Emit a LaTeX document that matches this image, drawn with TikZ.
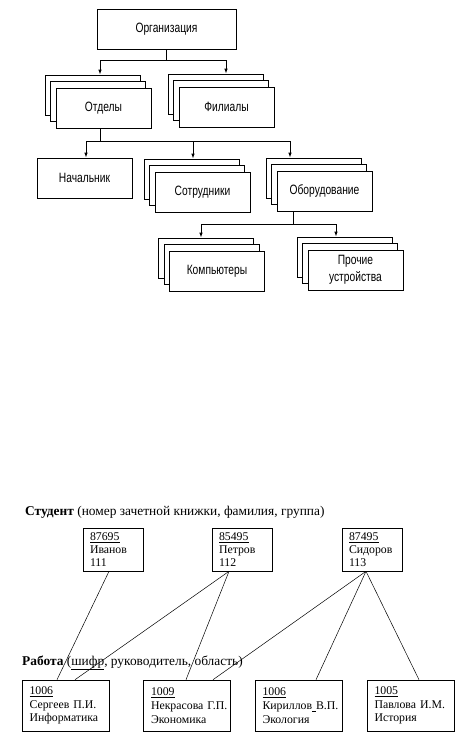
\documentclass[tikz,border=0pt]{standalone}
\usepackage{fontspec}
\setmainfont{Liberation Serif}
\newfontfamily\diagfont[FakeStretch=0.76]{Liberation Sans}
\usetikzlibrary{arrows.meta,calc}
\tikzset{
  box/.style={draw, line width=0.9pt, minimum width=95, minimum height=40, inner sep=0pt,
    font=\diagfont\fontsize{13.5}{16.5}\selectfont, align=center, fill=white},
  ln/.style={line width=0.9pt},
  arr/.style={line width=0.9pt, -{Latex[length=5pt,width=3.6pt]}},
  stu/.style={draw, line width=0.6pt, minimum width=60, minimum height=43, inner xsep=7pt,
    inner ysep=0pt, text width=46, align=left, font=\fontsize{11.8}{12.8}\selectfont},
  wrk/.style={draw, line width=0.6pt, minimum width=87, minimum height=51, inner xsep=7.5pt,
    inner ysep=0pt, text width=72, align=left, font=\fontsize{11.8}{13.8}\selectfont},
  lbl/.style={anchor=base west, inner sep=0pt, font=\fontsize{13.4}{15}\selectfont},
  rel/.style={line width=0.5pt}
}
\newcommand\stk[4]{%
  \node[box] (#1-a) at (#2-11,#3-13) {};
  \node[box] (#1-b) at (#2-5.5,#3-6.5) {};
  \node[box] (#1) at (#2,#3) {#4};}
\hbadness=10000 \hfuzz=100pt
\begin{document}
\begin{tikzpicture}[x=1pt,y=-1pt]
\useasboundingbox (0,0) rectangle (461,739);
\fill[white] (0,0) rectangle (461,739);
% top hierarchy
\node[box, minimum width=139] (org) at (166.5,29) {Организация};
\stk{ot}{103.5}{108}{Отделы}
\stk{fi}{226.5}{107}{Филиалы}
\node[box] (nach) at (84.5,178) {Начальник};
\stk{so}{202.5}{192}{Сотрудники}
\stk{ob}{324.5}{191}{Оборудование}
\stk{ko}{217}{271}{Компьютеры}
\stk{pr}{355.5}{270}{Прочие\\устройства}
% level 1 connectors
\coordinate (j1) at (166.5,60);
\coordinate (a1) at (100,60);
\coordinate (a2) at (226,60);
\draw[ln] (org.south) -- (j1);
\draw[ln] (a1) -- (a2);
\draw[arr] (a1) -- (a1 |- ot-a.north);
\draw[arr] (a2) -- (a2 |- fi-a.north);
% level 2 connectors
\coordinate (j2) at (100,141);
\coordinate (b1) at (86,141);
\coordinate (b2) at (193,141);
\coordinate (b3) at (290,141);
\draw[ln] (j2 |- ot.south) -- (j2);
\draw[ln] (b1) -- (b3);
\draw[arr] (b1) -- (b1 |- nach.north);
\draw[arr] (b2) -- (b2 |- so-a.north);
\draw[arr] (b3) -- (b3 |- ob-a.north);
% level 3 connectors
\coordinate (j3) at (293,224);
\coordinate (c1) at (201,224);
\coordinate (c2) at (336,224);
\draw[ln] (j3 |- ob.south) -- (j3);
\draw[ln] (c1) -- (c2);
\draw[arr] (c1) -- (c1 |- ko-a.north);
\draw[arr] (c2) -- (c2 |- pr-a.north);
% bottom relation diagram
\node[lbl] (lstu) at (25,515) {\textbf{Студент} (номер зачетной книжки, фамилия, группа)};
\node[stu] (iv) at (113,549.5) {\underline{87695}\\Иванов\\111};
\node[stu] (pe) at (242,549.5) {\underline{85495}\\Петров\\112};
\node[stu] (si) at (372,549.5) {\underline{87495}\\Сидоров\\113};
\node[lbl] (lwrk) at (22,665) {\textbf{Работа} (\underline{шифр}, руководитель, область)};
\node[wrk] (w1) at (65.5,705.5) {\underline{1006}\\\mbox{Сергеев П.И.}\\Информатика};
\node[wrk] (w2) at (187,705.5) {\underline{1009}\\\mbox{Некрасова Г.П.}\\Экономика};
\node[wrk] (w3) at (298.5,705.5) {\underline{1006}\\\mbox{Кириллов\underline{\ }В.П.}\\Экология};
\node[wrk] (w4) at (410.5,705.5) {\underline{1005}\\\mbox{Павлова И.М.}\\История};
\draw[rel] ([xshift=-4pt]iv.south) -- ([xshift=-8.5pt]w1.north);
\draw[rel] ([xshift=-13pt]pe.south) -- ([xshift=9.5pt]w1.north);
\draw[rel] ([xshift=-13pt]pe.south) -- ([xshift=-1pt]w2.north);
\draw[rel] ([xshift=-6pt]si.south) -- ([xshift=26pt]w2.north);
\draw[rel] ([xshift=-6pt]si.south) -- ([xshift=17.5pt]w3.north);
\draw[rel] ([xshift=-6pt]si.south) -- ([xshift=8.5pt]w4.north);
\end{tikzpicture}
\end{document}
